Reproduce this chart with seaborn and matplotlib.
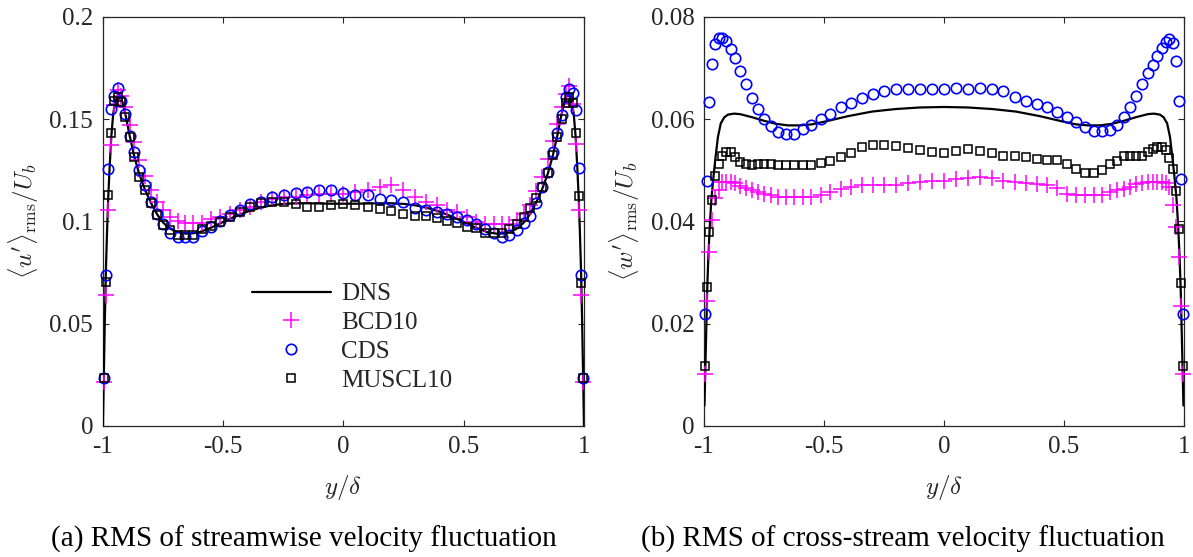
import numpy as np
import pandas as pd
import matplotlib
matplotlib.use("Agg")
import matplotlib.pyplot as plt
import seaborn as sns

sns.set_style("ticks")
plt.rcParams["font.family"] = ["Liberation Serif", "DejaVu Serif"]
plt.rcParams["mathtext.fontset"] = "cm"
plt.rcParams["axes.unicode_minus"] = False

# ---------------- data ----------------
# LES grid: distance from the wall for one half channel (centre point separate)
d_half = [0.003, 0.011, 0.022, 0.034, 0.047, 0.061, 0.076, 0.093, 0.111, 0.130,
          0.151, 0.174, 0.198, 0.224, 0.251, 0.280, 0.310, 0.342, 0.376, 0.411,
          0.448, 0.487, 0.527, 0.569, 0.613, 0.658, 0.704, 0.752, 0.801, 0.850,
          0.900, 0.950]

# (a) streamwise rms: lower-wall half (from wall), centre, upper-wall half (from wall)
u_bcd_low = [0.0214, 0.0641, 0.1056, 0.1374, 0.1570, 0.1645, 0.1615, 0.1558, 0.1472, 0.1390,
             0.1300, 0.1222, 0.1154, 0.1097, 0.1056, 0.1023, 0.1000, 0.0995, 0.0995, 0.0995,
             0.1010, 0.1023, 0.1039, 0.1055, 0.1071, 0.1096, 0.1112, 0.1120, 0.1120, 0.1128,
             0.1132, 0.1136]
u_bcd_mid = 0.1136
u_bcd_up = [0.0214, 0.0641, 0.1058, 0.1380, 0.1575, 0.1664, 0.1623, 0.1558, 0.1477, 0.1396,
            0.1307, 0.1218, 0.1150, 0.1080, 0.1035, 0.1005, 0.0990, 0.0987, 0.0987, 0.0987,
            0.0998, 0.1023, 0.1047, 0.1055, 0.1079, 0.1096, 0.1120, 0.1153, 0.1177, 0.1169,
            0.1153, 0.1144]

u_cds_low = [0.0235, 0.0739, 0.1258, 0.1550, 0.1615, 0.1653, 0.1590, 0.1526, 0.1416, 0.1339,
             0.1253, 0.1177, 0.1096, 0.1039, 0.0990, 0.0945, 0.0925, 0.0922, 0.0922, 0.0955,
             0.0974, 0.1003, 0.1031, 0.1055, 0.1084, 0.1096, 0.1120, 0.1128, 0.1140, 0.1144,
             0.1153, 0.1156]
u_cds_mid = 0.1140
u_cds_up = [0.0235, 0.0738, 0.1260, 0.1545, 0.1627, 0.1650, 0.1607, 0.1520, 0.1434, 0.1341,
            0.1244, 0.1170, 0.1089, 0.1027, 0.0991, 0.0958, 0.0934, 0.0926, 0.0945, 0.0965,
            0.0990, 0.1007, 0.1020, 0.1035, 0.1045, 0.1058, 0.1068, 0.1096, 0.1107, 0.1112,
            0.1128, 0.1128]

u_mus_low = [0.0235, 0.0706, 0.1128, 0.1432, 0.1590, 0.1607, 0.1586, 0.1510, 0.1412, 0.1315,
             0.1218, 0.1153, 0.1088, 0.1034, 0.0982, 0.0958, 0.0933, 0.0933, 0.0933, 0.0961,
             0.0977, 0.0998, 0.1023, 0.1047, 0.1071, 0.1088, 0.1096, 0.1096, 0.1084, 0.1071,
             0.1071, 0.1079]
u_mus_mid = 0.1084
u_mus_up = [0.0235, 0.0698, 0.1125, 0.1434, 0.1581, 0.1610, 0.1578, 0.1500, 0.1412, 0.1325,
            0.1239, 0.1170, 0.1116, 0.1064, 0.1024, 0.0988, 0.0962, 0.0942, 0.0942, 0.0945,
            0.0967, 0.0975, 0.0991, 0.1003, 0.1015, 0.1026, 0.1026, 0.1039, 0.1052, 0.1063,
            0.1071, 0.1083]

# DNS streamwise profile (half channel, distance from wall)
d_dns_u = [0.0, 0.003, 0.008, 0.012, 0.017, 0.022, 0.028, 0.035, 0.043, 0.052, 0.062, 0.072,
           0.082, 0.095, 0.11, 0.13, 0.15, 0.175, 0.2, 0.225, 0.25, 0.275, 0.3, 0.33, 0.36,
           0.4, 0.45, 0.5, 0.55, 0.6, 0.65, 0.7, 0.75, 0.8, 0.85, 0.9, 0.95, 1.0]
u_dns = [0.0, 0.021, 0.053, 0.075, 0.095, 0.112, 0.127, 0.142, 0.153, 0.159, 0.1618, 0.1615,
         0.158, 0.1515, 0.1425, 0.132, 0.1235, 0.1155, 0.109, 0.1035, 0.0995, 0.0968, 0.0952,
         0.0942, 0.094, 0.0947, 0.097, 0.0998, 0.1025, 0.1048, 0.1066, 0.1079, 0.1086, 0.1089,
         0.1089, 0.1088, 0.1087, 0.1087]

# (b) cross-stream rms
w_bcd_low = [0.0102, 0.0245, 0.0340, 0.0403, 0.0446, 0.0462, 0.0477, 0.0478, 0.0477, 0.0475,
             0.0470, 0.0465, 0.0461, 0.0457, 0.0454, 0.0451, 0.0448, 0.0447, 0.0447, 0.0447,
             0.0448, 0.0452, 0.0458, 0.0464, 0.0468, 0.0471, 0.0472, 0.0472, 0.0472, 0.0475,
             0.0477, 0.0479]
w_bcd_mid = 0.0480
w_bcd_up = [0.0101, 0.0234, 0.0331, 0.0390, 0.0432, 0.0468, 0.0476, 0.0477, 0.0477, 0.0477,
            0.0477, 0.0476, 0.0474, 0.0468, 0.0464, 0.0462, 0.0458, 0.0452, 0.0451, 0.0451,
            0.0451, 0.0453, 0.0466, 0.0471, 0.0473, 0.0475, 0.0478, 0.0480, 0.0486, 0.0487,
            0.0486, 0.0484]

w_cds_low = [0.0220, 0.0480, 0.0634, 0.0708, 0.0747, 0.0758, 0.0758, 0.0753, 0.0738, 0.0720,
             0.0695, 0.0669, 0.0642, 0.0620, 0.0600, 0.0586, 0.0576, 0.0571, 0.0571, 0.0580,
             0.0588, 0.0601, 0.0610, 0.0623, 0.0632, 0.0642, 0.0649, 0.0656, 0.0659, 0.0660,
             0.0660, 0.0660]
w_cds_mid = 0.0660
w_cds_up = [0.0220, 0.0483, 0.0636, 0.0713, 0.0749, 0.0756, 0.0752, 0.0739, 0.0724, 0.0706,
            0.0690, 0.0669, 0.0646, 0.0623, 0.0604, 0.0589, 0.0579, 0.0577, 0.0577, 0.0585,
            0.0595, 0.0605, 0.0615, 0.0623, 0.0630, 0.0636, 0.0644, 0.0655, 0.0660, 0.0661,
            0.0660, 0.0661]

w_mus_low = [0.0117, 0.0271, 0.0380, 0.0443, 0.0489, 0.0513, 0.0529, 0.0536, 0.0536, 0.0527,
             0.0516, 0.0513, 0.0511, 0.0513, 0.0513, 0.0513, 0.0511, 0.0511, 0.0511, 0.0511,
             0.0511, 0.0515, 0.0518, 0.0526, 0.0534, 0.0545, 0.0549, 0.0549, 0.0547, 0.0544,
             0.0539, 0.0536]
w_mus_mid = 0.0533
w_mus_up = [0.0117, 0.0279, 0.0386, 0.0460, 0.0503, 0.0525, 0.0539, 0.0545, 0.0545, 0.0542,
            0.0536, 0.0529, 0.0528, 0.0528, 0.0528, 0.0518, 0.0513, 0.0500, 0.0495, 0.0495,
            0.0503, 0.0513, 0.0521, 0.0521, 0.0523, 0.0526, 0.0529, 0.0529, 0.0533, 0.0538,
            0.0542, 0.0538]

d_dns_w = [0.002, 0.005, 0.009, 0.013, 0.018, 0.024, 0.031, 0.040, 0.048, 0.058, 0.070, 0.085,
           0.100, 0.125, 0.150, 0.200, 0.250, 0.300, 0.350, 0.400, 0.450, 0.500, 0.600, 0.700,
           0.800, 0.900, 1.000]
w_dns = [0.004, 0.010, 0.018, 0.026, 0.033, 0.039, 0.0445, 0.049, 0.0525, 0.0565, 0.0592,
         0.0604, 0.0609, 0.0611, 0.0610, 0.0604, 0.0597, 0.0591, 0.0588, 0.0588, 0.0590,
         0.0595, 0.0606, 0.0615, 0.0620, 0.0623, 0.0624]

x_ticks = [-1, -0.5, 0, 0.5, 1]
x_ticklabels = ["-1", "-0.5", "0", "0.5", "1"]
u_ticks = [0, 0.05, 0.1, 0.15, 0.2]
u_ticklabels = ["0", "0.05", "0.1", "0.15", "0.2"]
w_ticks = [0, 0.02, 0.04, 0.06, 0.08]
w_ticklabels = ["0", "0.02", "0.04", "0.06", "0.08"]
captions = ["(a) RMS of streamwise velocity fluctuation",
            "(b) RMS of cross-stream velocity fluctuation"]


def channel(low, mid, up, d):
    """Assemble a wall-to-wall profile from the two half-channel lists."""
    y = [-1 + v for v in d] + [0.0] + [1 - v for v in reversed(d)]
    vals = list(low) + [mid] + list(reversed(up))
    return pd.DataFrame({"y": y, "v": vals})


def dns_profile(d, vals):
    y = [-1 + v for v in d] + [1 - v for v in reversed(d[:-1])]
    vv = list(vals) + list(reversed(vals[:-1]))
    return pd.DataFrame({"y": y, "v": vv})


TXT = "#262626"
MAG = "#FF00FF"
BLU = "#0000FF"
fig = plt.figure(figsize=(11.93, 5.57), dpi=100)
ax1 = fig.add_axes([0.0863, 0.2352, 0.4032, 0.7343])
ax2 = fig.add_axes([0.5901, 0.2352, 0.4023, 0.7343])

panels = [
    (ax1, u_dns, d_dns_u, (u_bcd_low, u_bcd_mid, u_bcd_up), (u_cds_low, u_cds_mid, u_cds_up),
     (u_mus_low, u_mus_mid, u_mus_up), 0.2, u_ticks, u_ticklabels,
     r"$\langle u^{\prime}\rangle_{\rm rms}/U_b$"),
    (ax2, w_dns, d_dns_w, (w_bcd_low, w_bcd_mid, w_bcd_up), (w_cds_low, w_cds_mid, w_cds_up),
     (w_mus_low, w_mus_mid, w_mus_up), 0.08, w_ticks, w_ticklabels,
     r"$\langle w^{\prime}\rangle_{\rm rms}/U_b$"),
]

for ax, dns, ddns, bcd, cds, mus, ymax, yt, ytl, ylab in panels:
    ddf = dns_profile(ddns, dns)
    sns.lineplot(data=ddf, x="y", y="v", ax=ax, color="black", lw=1.6, sort=False,
                 estimator=None, label="DNS", zorder=3)
    bdf = channel(*bcd, d_half)
    sns.lineplot(data=bdf, x="y", y="v", ax=ax, sort=False, estimator=None,
                 linestyle="", marker="+", markersize=12, markeredgewidth=1.1,
                 markeredgecolor=MAG, color=MAG, label="BCD10", clip_on=False, zorder=4)
    cdf = channel(*cds, d_half)
    sns.lineplot(data=cdf, x="y", y="v", ax=ax, sort=False, estimator=None,
                 linestyle="", marker="o", markersize=7.5, markeredgewidth=1.2,
                 markerfacecolor="none", markeredgecolor=BLU, color=BLU,
                 label="CDS", clip_on=False, zorder=5)
    mdf = channel(*mus, d_half)
    sns.lineplot(data=mdf, x="y", y="v", ax=ax, sort=False, estimator=None,
                 linestyle="", marker="s", markersize=6, markeredgewidth=1.1,
                 markerfacecolor="none", markeredgecolor="black", color="black",
                 label="MUSCL10", clip_on=False, zorder=6)

    ax.set_xlim(-1, 1)
    ax.set_ylim(0, ymax)
    ax.set_xticks(x_ticks)
    ax.set_xticklabels(x_ticklabels)
    ax.set_yticks(yt)
    ax.set_yticklabels(ytl)
    ax.tick_params(direction="in", top=True, right=True, length=4, width=0.8,
                   labelsize=18, colors=TXT, pad=7)
    for s in ax.spines.values():
        s.set_visible(True)
        s.set_color(TXT)
        s.set_linewidth(0.9)
    ax.set_xlabel(r"$y/\delta$", fontsize=18, color=TXT, labelpad=11)
    ax.set_ylabel(ylab, fontsize=18, color=TXT, labelpad=6)
    ax.set_facecolor("white")
    if ax.get_legend() is not None:
        ax.get_legend().remove()

h, l = ax1.get_legend_handles_labels()
leg = ax1.legend(h, l, loc="upper left", bbox_to_anchor=(0.31, 0.35), frameon=False,
                 fontsize=18, handlelength=3.15, handletextpad=0.4, labelspacing=0.25,
                 borderpad=0, borderaxespad=0)
for t in leg.get_texts():
    t.set_color(TXT)

fig.text(0.2548, 0.031, captions[0], ha="center", va="center", fontsize=21, color="black")
fig.text(0.757, 0.031, captions[1], ha="center", va="center", fontsize=21, color="black")

fig.savefig("out.png", dpi=100, facecolor="white")
